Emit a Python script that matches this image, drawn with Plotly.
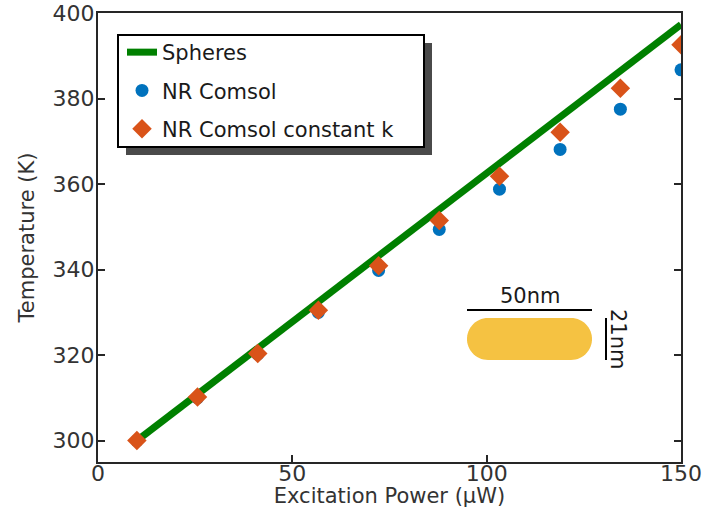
import plotly.graph_objects as go
import numpy as np

# ---- data ----
power = [10, 25.6, 41.1, 56.7, 72.2, 87.8, 103.3, 118.9, 134.4, 150]
nr_comsol = [300.0, 310.0, 320.2, 330.0, 339.8, 349.4, 358.8, 368.1, 377.5, 386.7]
nr_const_k = [300.0, 310.2, 320.4, 330.5, 340.9, 351.5, 361.8, 372.1, 382.4, 392.6]
spheres_x = [10, 150]
spheres_y = [300.0, 397.3]
x_ticks = [0, 50, 100, 150]
y_ticks = [300, 320, 340, 360, 380, 400]

W, H = 703, 508
L, R, T, B = 98, 22, 13, 46
PW, PH = W - L - R, H - T - B

def px(xp):
    return (xp - L) / PW

def py(yp):
    return (H - B - yp) / PH

FONT = "DejaVu Sans"
AXC = "#262626"
TXT = "#333333"

fig = go.Figure()
fig.add_trace(go.Scatter(x=spheres_x, y=spheres_y, mode="lines", name="Spheres",
                         line=dict(color="#008000", width=7), legendgroup="a"))
fig.add_trace(go.Scatter(x=power, y=nr_comsol, mode="markers", name="NR Comsol",
                         marker=dict(symbol="circle", size=13, color="#0072BD"), legendgroup="b"))
fig.add_trace(go.Scatter(x=power, y=nr_const_k, mode="markers", name="NR Comsol constant k",
                         marker=dict(symbol="diamond", size=15, color="#D95319"), legendgroup="c"))

shapes = []
# legend shadow and box
shapes.append(dict(type="rect", xref="paper", yref="paper", x0=px(126), x1=px(432), y0=py(155), y1=py(43),
                   fillcolor="#4a4a4a", line=dict(width=0), layer="above"))
shapes.append(dict(type="rect", xref="paper", yref="paper", x0=px(118), x1=px(424), y0=py(147), y1=py(35),
                   fillcolor="white", line=dict(color="black", width=2), layer="above"))

# nanorod inset (stadium shape)
x0r, x1r, y0r, y1r = 467, 592, 318, 360
rad = (y1r - y0r) / 2
cy = (y0r + y1r) / 2
pts = []
for a in np.linspace(-np.pi / 2, np.pi / 2, 30):
    pts.append((x1r - rad + rad * np.cos(a), cy + rad * np.sin(a)))
for a in np.linspace(np.pi / 2, 3 * np.pi / 2, 30):
    pts.append((x0r + rad + rad * np.cos(a), cy + rad * np.sin(a)))
path = "M " + " L ".join(f"{px(a):.5f},{py(b):.5f}" for a, b in pts) + " Z"
shapes.append(dict(type="path", xref="paper", yref="paper", path=path,
                   fillcolor="#F5C242", line=dict(width=0), layer="above"))
shapes.append(dict(type="line", xref="paper", yref="paper", x0=px(467), x1=px(592), y0=py(310), y1=py(310),
                   line=dict(color="black", width=2)))
shapes.append(dict(type="line", xref="paper", yref="paper", x0=px(606), x1=px(606), y0=py(318), y1=py(360),
                   line=dict(color="black", width=2)))

annotations = [
    dict(text="50nm", xref="paper", yref="paper", x=px(530), y=py(296), showarrow=False,
         font=dict(family=FONT, size=21, color="#1a1a1a"), xanchor="center", yanchor="middle"),
    dict(text="21nm", xref="paper", yref="paper", x=px(618), y=py(339), showarrow=False, textangle=90,
         font=dict(family=FONT, size=21, color="#1a1a1a"), xanchor="center", yanchor="middle"),
]

fig.update_layout(
    width=W, height=H,
    margin=dict(l=L, r=R, t=T, b=B, autoexpand=False),
    plot_bgcolor="white", paper_bgcolor="white",
    font=dict(family=FONT, size=21, color=TXT),
    shapes=shapes, annotations=annotations,
    legend=dict(x=px(122), y=py(32), xanchor="left", yanchor="top", bgcolor="rgba(0,0,0,0)",
                borderwidth=0, font=dict(family=FONT, size=21, color="#1a1a1a"),
                traceorder="grouped", tracegroupgap=8),
    xaxis=dict(range=[0, 150], tickvals=x_ticks, ticks="inside", ticklen=7, tickwidth=2, tickcolor=AXC,
               showline=True, linecolor=AXC, linewidth=2, mirror=True, showgrid=False, zeroline=False,
               tickfont=dict(size=22, color=TXT), ticklabelstandoff=-9,
               title=dict(text="Excitation Power (μW)", font=dict(size=21, color=TXT), standoff=6)),
    yaxis=dict(range=[295, 400], tickvals=y_ticks, ticks="inside", ticklen=7, tickwidth=2, tickcolor=AXC,
               showline=True, linecolor=AXC, linewidth=2, mirror="ticks", showgrid=False, zeroline=False,
               tickfont=dict(size=22, color=TXT), ticklabelstandoff=-3,
               title=dict(text="Temperature (K)", font=dict(size=21, color=TXT), standoff=12)),
)

fig.write_html("out.html")
